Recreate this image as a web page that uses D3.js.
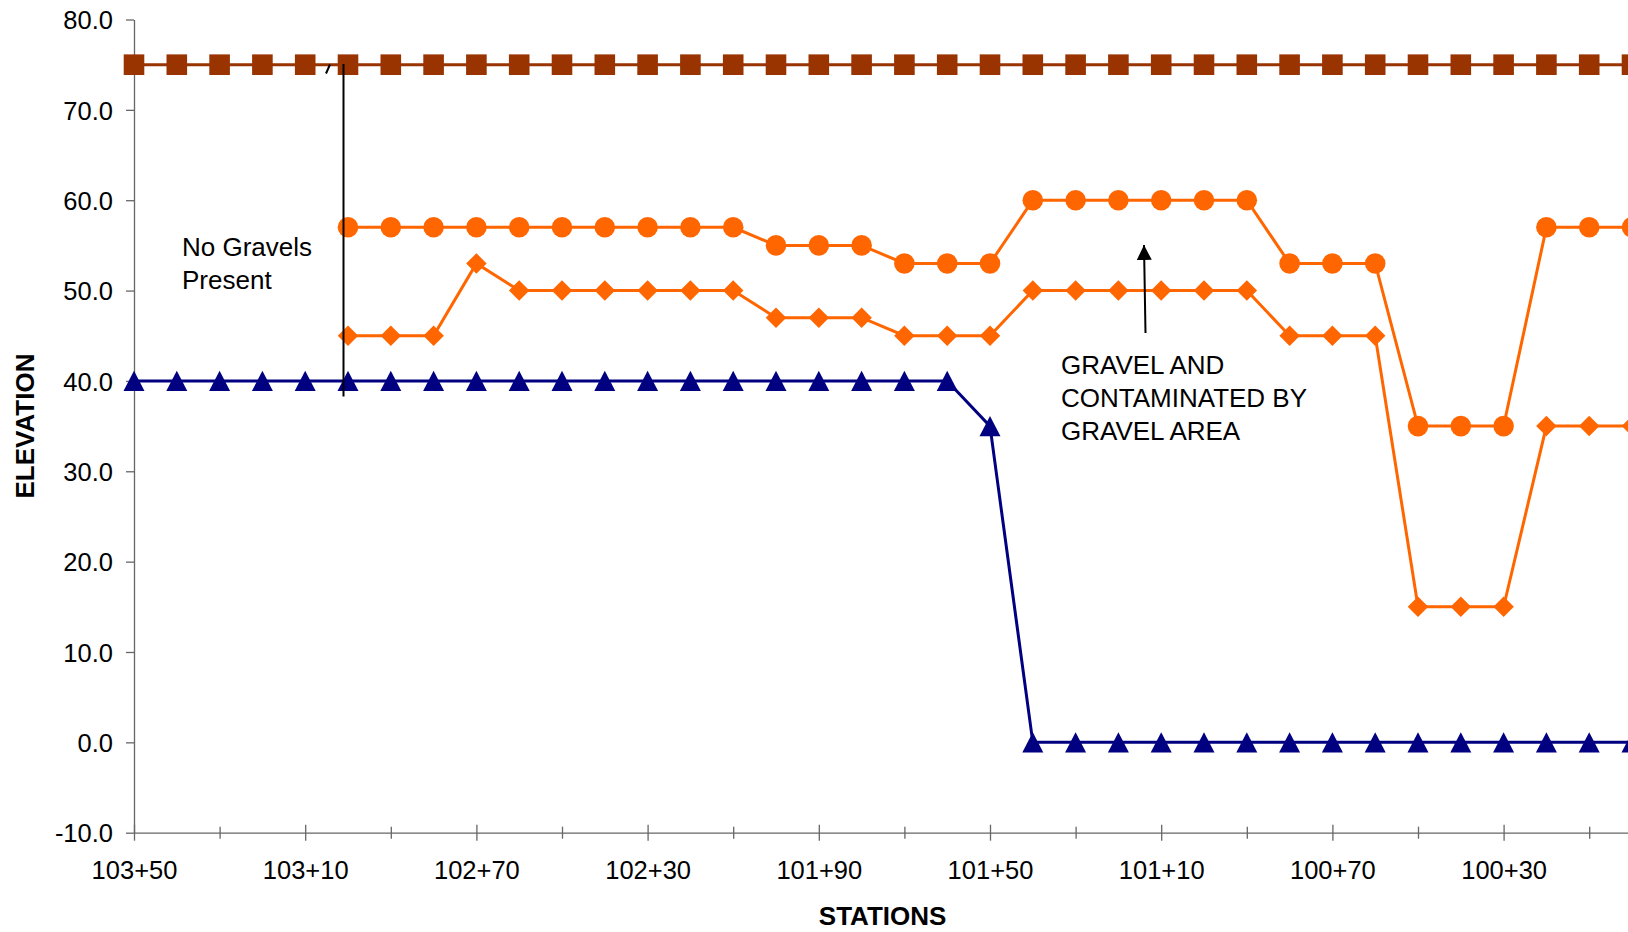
<!DOCTYPE html>
<html>
<head>
<meta charset="utf-8">
<script src="https://cdn.jsdelivr.net/npm/d3@7"></script>
<style>
  html, body { margin: 0; padding: 0; background: #ffffff; overflow: hidden; }
  svg { display: block; font-family: "Liberation Sans", Arial, sans-serif; }
</style>
</head>
<body>
<svg id="chart" width="1628" height="932"></svg>
<script>
// ---------------- DATA ----------------
const stations = ["103+50","103+40","103+30","103+20","103+10","103+00","102+90","102+80","102+70","102+60",
                  "102+50","102+40","102+30","102+20","102+10","102+00","101+90","101+80","101+70","101+60",
                  "101+50","101+40","101+30","101+20","101+10","101+00","100+90","100+80","100+70","100+60",
                  "100+50","100+40","100+30","100+20","100+10","100+00"];

const groundSurface = [75,75,75,75,75,75,75,75,75,75,75,75,75,75,75,75,75,75,75,75,
                       75,75,75,75,75,75,75,75,75,75,75,75,75,75,75,75];
const gravelTop     = [null,null,null,null,null,57,57,57,57,57,57,57,57,57,57,55,55,55,53,53,
                       53,60,60,60,60,60,60,53,53,53,35,35,35,57,57,57];
const gravelBottom  = [null,null,null,null,null,45,45,45,53,50,50,50,50,50,50,47,47,47,45,45,
                       45,50,50,50,50,50,50,45,45,45,15,15,15,35,35,35];
const baseLevel     = [40,40,40,40,40,40,40,40,40,40,40,40,40,40,40,40,40,40,40,40,
                       35,0,0,0,0,0,0,0,0,0,0,0,0,0,0,0];

const yTicks = [-10,0,10,20,30,40,50,60,70,80];
const xLabelEvery = 4;
const xTickEvery = 2;

// ---------------- LAYOUT ----------------
const svg = d3.select("#chart");
const plotLeft = 134, plotRight = 1632, plotTop = 19.5, plotBottom = 832.7;

const x = d3.scalePoint().domain(stations).range([plotLeft, plotRight]);
const y = d3.scaleLinear().domain([-10, 80]).range([plotBottom, plotTop]);

const axisColor = "#666666";
const fontSize = 25.5;

// Y axis
const yAxis = svg.append("g")
  .attr("transform", `translate(${plotLeft},0)`)
  .call(d3.axisLeft(y).tickValues(yTicks).tickFormat(d => d.toFixed(1)).tickSize(8).tickSizeOuter(0).tickPadding(13));
yAxis.select(".domain").attr("stroke", axisColor).attr("stroke-width", 1.3);
yAxis.selectAll(".tick line").attr("stroke", axisColor).attr("stroke-width", 1.3);
yAxis.selectAll(".tick text").attr("font-size", fontSize).attr("fill", "#000")
  .attr("font-family", "Liberation Sans, Arial, sans-serif").attr("dy", "0.36em");

// X axis
const xTickVals = stations.filter((d, i) => i % xTickEvery === 0);
const xAxis = svg.append("g")
  .attr("transform", `translate(0,${plotBottom})`)
  .call(d3.axisBottom(x).tickValues(xTickVals)
        .tickFormat(d => stations.indexOf(d) % xLabelEvery === 0 ? d : "")
        .tickSizeOuter(0));
xAxis.select(".domain").attr("stroke", axisColor).attr("stroke-width", 1.3);
xAxis.selectAll(".tick line")
  .attr("stroke", axisColor).attr("stroke-width", 1.3)
  .attr("y1", d => stations.indexOf(d) % xLabelEvery === 0 ? -8 : -6)
  .attr("y2", d => stations.indexOf(d) % xLabelEvery === 0 ? 8 : 6);
xAxis.selectAll(".tick text")
  .attr("font-size", fontSize).attr("fill", "#000")
  .attr("font-family", "Liberation Sans, Arial, sans-serif")
  .attr("y", 37).attr("dy", "0.36em");

// Axis titles
svg.append("text")
  .attr("x", 882.6).attr("y", 925)
  .attr("text-anchor", "middle")
  .attr("font-size", 26).attr("font-weight", "bold")
  .text("STATIONS");
svg.append("text")
  .attr("transform", `translate(34.3,426) rotate(-90)`)
  .attr("text-anchor", "middle")
  .attr("font-size", 26).attr("font-weight", "bold")
  .text("ELEVATION");

// ---------------- SERIES ----------------
const triangleType = {
  draw(ctx, size) {
    const h = Math.sqrt(size) / 2;
    ctx.moveTo(0, -h);
    ctx.lineTo(h * 1.03, h);
    ctx.lineTo(-h * 1.03, h);
    ctx.closePath();
  }
};
const diamondType = {
  draw(ctx, size) {
    const r = Math.sqrt(size) / 2;
    ctx.moveTo(0, -r);
    ctx.lineTo(r, 0);
    ctx.lineTo(0, r);
    ctx.lineTo(-r, 0);
    ctx.closePath();
  }
};

const seriesList = [
  { name: "Ground Surface", values: groundSurface, color: "#993300", symbol: d3.symbolSquare, size: 20.6 * 20.6 },
  { name: "Top of Gravel", values: gravelTop, color: "#FF6600", symbol: d3.symbolCircle, size: Math.PI * 10.3 * 10.3 },
  { name: "Bottom of Gravel", values: gravelBottom, color: "#FF6600", symbol: diamondType, size: 20.5 * 20.5 },
  { name: "Base", values: baseLevel, color: "#000080", symbol: triangleType, size: 20.4 * 20.4 }
];

const line = d3.line()
  .defined(d => d.v !== null)
  .x(d => x(d.s))
  .y(d => y(d.v));

seriesList.forEach(s => {
  const pts = stations.map((st, i) => ({ s: st, v: s.values[i] }));
  const g = svg.append("g").attr("class", "series");
  g.append("path")
    .datum(pts)
    .attr("fill", "none")
    .attr("stroke", s.color)
    .attr("stroke-width", 3)
    .attr("d", line);
  g.selectAll("path.marker")
    .data(pts.filter(d => d.v !== null))
    .join("path")
    .attr("class", "marker")
    .attr("transform", d => `translate(${x(d.s)},${y(d.v)})`)
    .attr("d", d3.symbol().type(s.symbol).size(s.size))
    .attr("fill", s.color);
});

// ---------------- ANNOTATIONS ----------------
const ann = svg.append("g").attr("class", "annotations");
ann.append("line")
  .attr("x1", 343.5).attr("x2", 343.5).attr("y1", 64).attr("y2", 396.5)
  .attr("stroke", "#000").attr("stroke-width", 2);
ann.append("line")
  .attr("x1", 326).attr("y1", 73.5).attr("x2", 330).attr("y2", 64.5)
  .attr("stroke", "#000").attr("stroke-width", 2);

const noGrav = ann.append("text").attr("font-size", 26).attr("fill", "#000");
noGrav.append("tspan").attr("x", 182).attr("y", 256).text("No Gravels");
noGrav.append("tspan").attr("x", 182).attr("y", 289).text("Present");

const defs = svg.append("defs");
defs.append("marker")
  .attr("id", "arrowhead")
  .attr("viewBox", "0 0 10 10")
  .attr("refX", 10).attr("refY", 5)
  .attr("markerWidth", 7.5).attr("markerHeight", 7.5)
  .attr("markerUnits", "strokeWidth")
  .attr("orient", "auto")
  .append("path").attr("d", "M0,0 L10,5 L0,10 Z").attr("fill", "#000");
ann.append("line")
  .attr("x1", 1145.5).attr("y1", 333).attr("x2", 1144).attr("y2", 245)
  .attr("stroke", "#000").attr("stroke-width", 2)
  .attr("marker-end", "url(#arrowhead)");

const grav = ann.append("text").attr("font-size", 26).attr("fill", "#000");
grav.append("tspan").attr("x", 1061).attr("y", 374).text("GRAVEL AND");
grav.append("tspan").attr("x", 1061).attr("y", 407).text("CONTAMINATED BY");
grav.append("tspan").attr("x", 1061).attr("y", 440).text("GRAVEL AREA");
</script>
</body>
</html>
